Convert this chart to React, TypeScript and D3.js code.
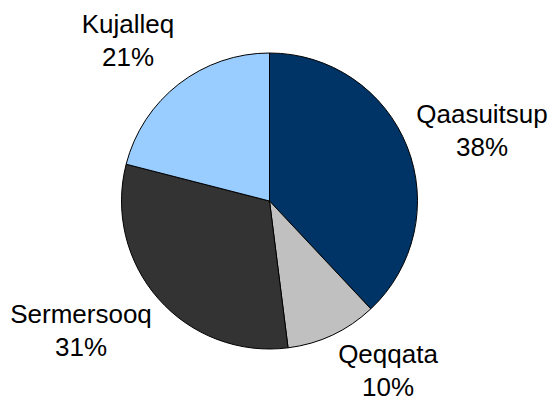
import React, { useEffect, useRef } from 'react';
import * as d3 from 'd3';

const regions = ['Qaasuitsup', 'Qeqqata', 'Sermersooq', 'Kujalleq'];
const shares = [38, 10, 31, 21];
const colors = ['#003366', '#C0C0C0', '#333333', '#99CCFF'];

const App: React.FC = () => {
  const svgRef = useRef<SVGSVGElement | null>(null);

  useEffect(() => {
    const svg = d3.select(svgRef.current);
    svg.selectAll('*').remove();

    const width = 549;
    const height = 403;
    const cx = 269.5;
    const cy = 201;
    const radius = 148;

    svg.attr('width', width).attr('height', height);

    const pie = d3.pie<number>().sort(null).value((d) => d);
    const arcs = pie(shares);
    const arc = d3.arc<d3.PieArcDatum<number>>().innerRadius(0).outerRadius(radius);

    const g = svg.append('g').attr('transform', `translate(${cx},${cy})`);
    g.selectAll('path')
      .data(arcs)
      .enter()
      .append('path')
      .attr('d', arc)
      .attr('fill', (_, i) => colors[i])
      .attr('stroke', '#000')
      .attr('stroke-width', 1);

    // label anchors (baseline of name line), relative to pie centre
    const labelAnchors: [number, number][] = [
      [212.5, -78],
      [118.5, 162],
      [-188.5, 122],
      [-141.5, -168],
    ];

    const labels = svg.append('g')
      .attr('transform', `translate(${cx},${cy})`)
      .attr('font-family', 'Liberation Sans, Arial, sans-serif')
      .attr('font-size', 26)
      .attr('fill', '#000')
      .attr('text-anchor', 'middle');

    arcs.forEach((a, i) => {
      const [lx, ly] = labelAnchors[i];
      const t = labels.append('text').attr('x', lx).attr('y', ly);
      t.append('tspan').attr('x', lx).text(regions[i]);
      t.append('tspan').attr('x', lx).attr('dy', 33).text(`${a.data}%`);
    });
  }, []);

  return <svg ref={svgRef} style={{ position: 'absolute', left: 0, top: 0 }}></svg>;
};

export default App;
